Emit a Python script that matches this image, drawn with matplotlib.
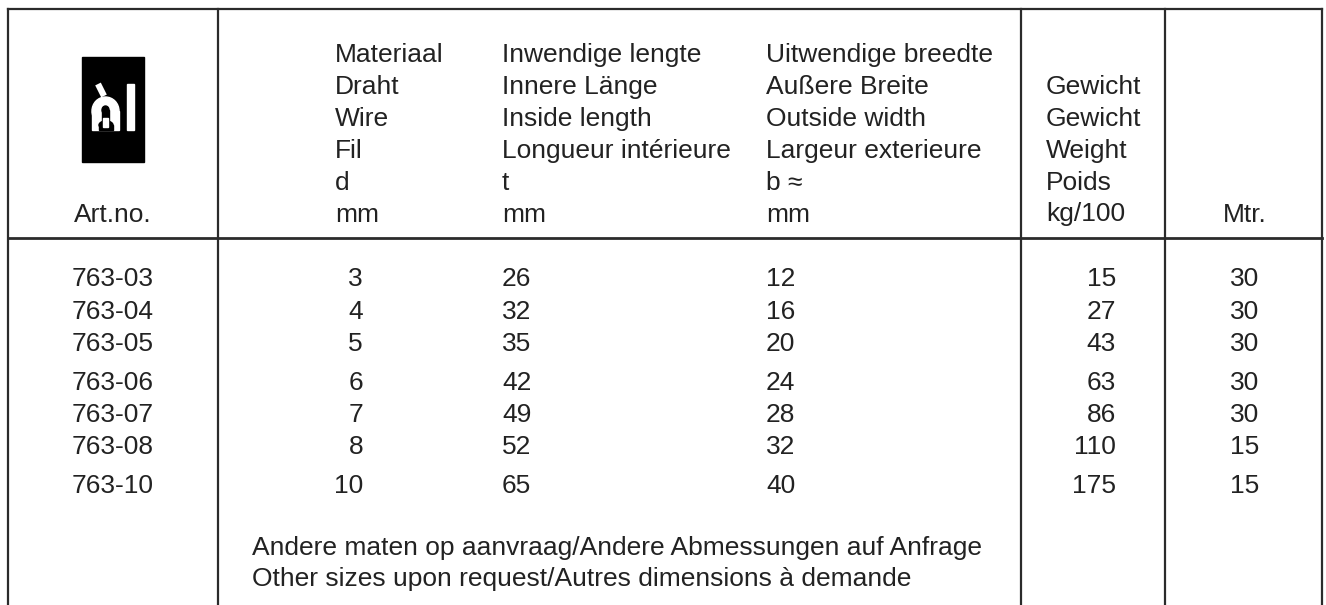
import numpy as np
import matplotlib.pyplot as plt
from matplotlib.patches import Rectangle, Ellipse

# table data
art_no = ['763-03', '763-04', '763-05', '763-06', '763-07', '763-08', '763-10']
wire_d = [3, 4, 5, 6, 7, 8, 10]
inside_t = [26, 32, 35, 42, 49, 52, 65]
outside_b = [12, 16, 20, 24, 28, 32, 40]
weight = [15, 27, 43, 63, 86, 110, 175]
mtr = [30, 30, 30, 30, 30, 15, 15]

hdr_wire = ['Materiaal', 'Draht', 'Wire', 'Fil', 'd', 'mm']
hdr_inside = ['Inwendige lengte', 'Innere Länge', 'Inside length',
              'Longueur intérieure', 't', 'mm']
hdr_outside = ['Uitwendige breedte', 'Außere Breite', 'Outside width',
               'Largeur exterieure', 'b ≈', 'mm']
hdr_weight = ['Gewicht', 'Gewicht', 'Weight', 'Poids', 'kg/100']
footnote = ['Andere maten op aanvraag/Andere Abmessungen auf Anfrage',
            'Other sizes upon request/Autres dimensions à demande']

W, H = 1326, 605
fig = plt.figure(figsize=(W / 100, H / 100), dpi=100)
ax = fig.add_axes([0, 0, 1, 1])
ax.set_xlim(0, W)
ax.set_ylim(H, 0)
ax.axis('off')

ink = '#222222'
fs = 19
font = dict(family='Liberation Sans', fontsize=fs, color=ink, va='baseline')

# grid lines
lc = '#2b2b2b'
lw = 1.6
x_left, x_c1, x_c2, x_c3, x_right = 8, 218, 1021, 1165, 1322
y_top, y_head = 9, 238
ax.plot([x_left, x_right], [y_top, y_top], color=lc, lw=lw)
ax.plot([x_left, x_right], [y_head, y_head], color=lc, lw=lw + 0.4)
for xv in (x_left, x_c1, x_c2, x_c3, x_right):
    ax.plot([xv, xv], [y_top, H], color=lc, lw=lw)

# header
line_h = 31.9
base0 = 62
for i, s in enumerate(hdr_wire):
    ax.text(335, base0 + i * line_h, s, ha='left', **font)
for i, s in enumerate(hdr_inside):
    ax.text(502, base0 + i * line_h, s, ha='left', **font)
for i, s in enumerate(hdr_outside):
    ax.text(766, base0 + i * line_h, s, ha='left', **font)
for i, s in enumerate(hdr_weight):
    ax.text(1046, base0 + (i + 1) * line_h, s, ha='left', **font)
ax.text(113, base0 + 5 * line_h, 'Art.no.', ha='center', **font)
ax.text(1245, base0 + 5 * line_h, 'Mtr.', ha='center', **font)

# logo
ax.add_patch(Rectangle((82, 57), 62, 105, color='black', zorder=3))
ax.add_patch(Rectangle((127, 84), 7, 46, color='white', zorder=4))
ax.plot([98, 104], [84, 96], color='white', lw=4.5, zorder=4,
        solid_capstyle='butt')
# arch
ax.add_patch(Ellipse((105.5, 111), 27, 28, color='white', zorder=4))
ax.add_patch(Rectangle((92, 111), 27, 19, color='white', zorder=4))
# inner slot and notch
ax.add_patch(Ellipse((105.5, 110), 7, 8, color='black', zorder=5))
ax.add_patch(Rectangle((102, 110), 7, 14, color='black', zorder=5))
ax.add_patch(Rectangle((99, 125), 14, 5, color='black', zorder=5))
ax.add_patch(Ellipse((106, 125), 14, 8, color='black', zorder=5))
ax.add_patch(Rectangle((102.5, 118), 5, 9, color='white', zorder=6))

# body rows
ys = [286.5 + i * 32.3 + (i // 3) * 6.5 for i in range(len(art_no))]
for y, a, d, t, b, w, m in zip(ys, art_no, wire_d, inside_t, outside_b,
                               weight, mtr):
    ax.text(113, y, a, ha='center', **font)
    ax.text(363, y, str(d), ha='right', **font)
    ax.text(502, y, str(t), ha='left', **font)
    ax.text(766, y, str(b), ha='left', **font)
    ax.text(1116, y, str(w), ha='right', **font)
    ax.text(1245, y, str(m), ha='center', **font)

for i, s in enumerate(footnote):
    ax.text(252, 555 + i * 31, s, ha='left', **font)

plt.savefig('out.png', dpi=100)
